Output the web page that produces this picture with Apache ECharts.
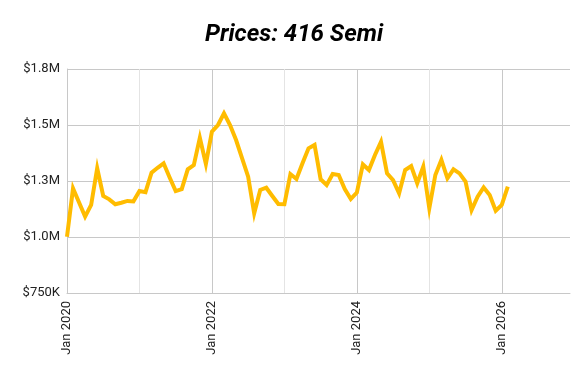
<!DOCTYPE html>
<html>
<head>
<meta charset="utf-8">
<script src="https://cdn.jsdelivr.net/npm/echarts@6/dist/echarts.min.js"></script>
<style>html,body{margin:0;padding:0;background:#fff}#c{width:588px;height:379px}</style>
</head>
<body>
<div id="c"></div>
<script>
// months since Jan 2020
const months = [];
for (let i = 0; i < 74; i++) months.push(i);
const prices = [1001, 1217, 1154, 1091, 1143, 1307, 1183, 1168, 1146, 1153, 1161, 1159,
  1205, 1200, 1287, 1309, 1329, 1266, 1205, 1214, 1302, 1321, 1443, 1326,
  1470, 1500, 1552, 1500, 1433, 1351, 1269, 1106, 1210, 1220, 1183, 1147,
  1146, 1281, 1259, 1329, 1396, 1411, 1258, 1232, 1281, 1277, 1214, 1170,
  1198, 1324, 1299, 1366, 1425, 1284, 1254, 1195, 1299, 1317, 1240, 1314,
  1128, 1277, 1344, 1262, 1302, 1284, 1247, 1120, 1180, 1221, 1187, 1117,
  1143, 1225];
const yTickValues = [750000, 1000000, 1250000, 1500000, 1750000];
const yTickLabels = ['$750K', '$1.0M', '$1.3M', '$1.5M', '$1.8M'];
const xLabelYears = { 0: 'Jan 2020', 24: 'Jan 2022', 48: 'Jan 2024', 72: 'Jan 2026' };
const title = 'Prices: 416 Semi';

const chart = echarts.init(document.getElementById('c'), null, { renderer: 'canvas' });
const data = months.map((m, i) => [m, prices[i] * 1000]);
chart.setOption({
  animation: false,
  backgroundColor: '#fff',
  title: {
    text: title, left: 'center', top: 18,
    textStyle: { fontFamily: 'Roboto', fontSize: 24, fontWeight: 'bold', fontStyle: 'italic', color: '#000' }
  },
  grid: { left: 67, right: 18, top: 69, bottom: 86, containLabel: false },
  xAxis: {
    type: 'value', min: 0, max: 83.3, interval: 12,
    axisLine: { show: true, lineStyle: { color: '#c8c8c8', width: 1 } },
    axisTick: { show: false },
    axisLabel: {
      rotate: 90, margin: 8, color: '#222', fontFamily: 'Roboto', fontSize: 13,
      formatter: v => xLabelYears[v] || ''
    },
    splitLine: {
      show: true, showMinLine: false, showMaxLine: false,
      lineStyle: { color: ['#e4e4e4', '#c8c8c8'], width: 1 }
    }
  },
  yAxis: {
    type: 'value', min: 750000, max: 1750000, interval: 250000,
    axisLine: { show: true, lineStyle: { color: '#c8c8c8', width: 1 } },
    axisTick: { show: false },
    axisLabel: {
      margin: 7, color: '#222', fontFamily: 'Roboto', fontSize: 13,
      formatter: v => { const i = yTickValues.indexOf(v); return i >= 0 ? yTickLabels[i] : ''; }
    },
    splitLine: { show: true, lineStyle: { color: '#c8c8c8', width: 1 } }
  },
  series: [{
    type: 'line', data: data, symbol: 'none', smooth: false,
    lineStyle: { color: '#FFBC00', width: 4, join: 'miter' }
  }]
});
</script>
</body>
</html>
